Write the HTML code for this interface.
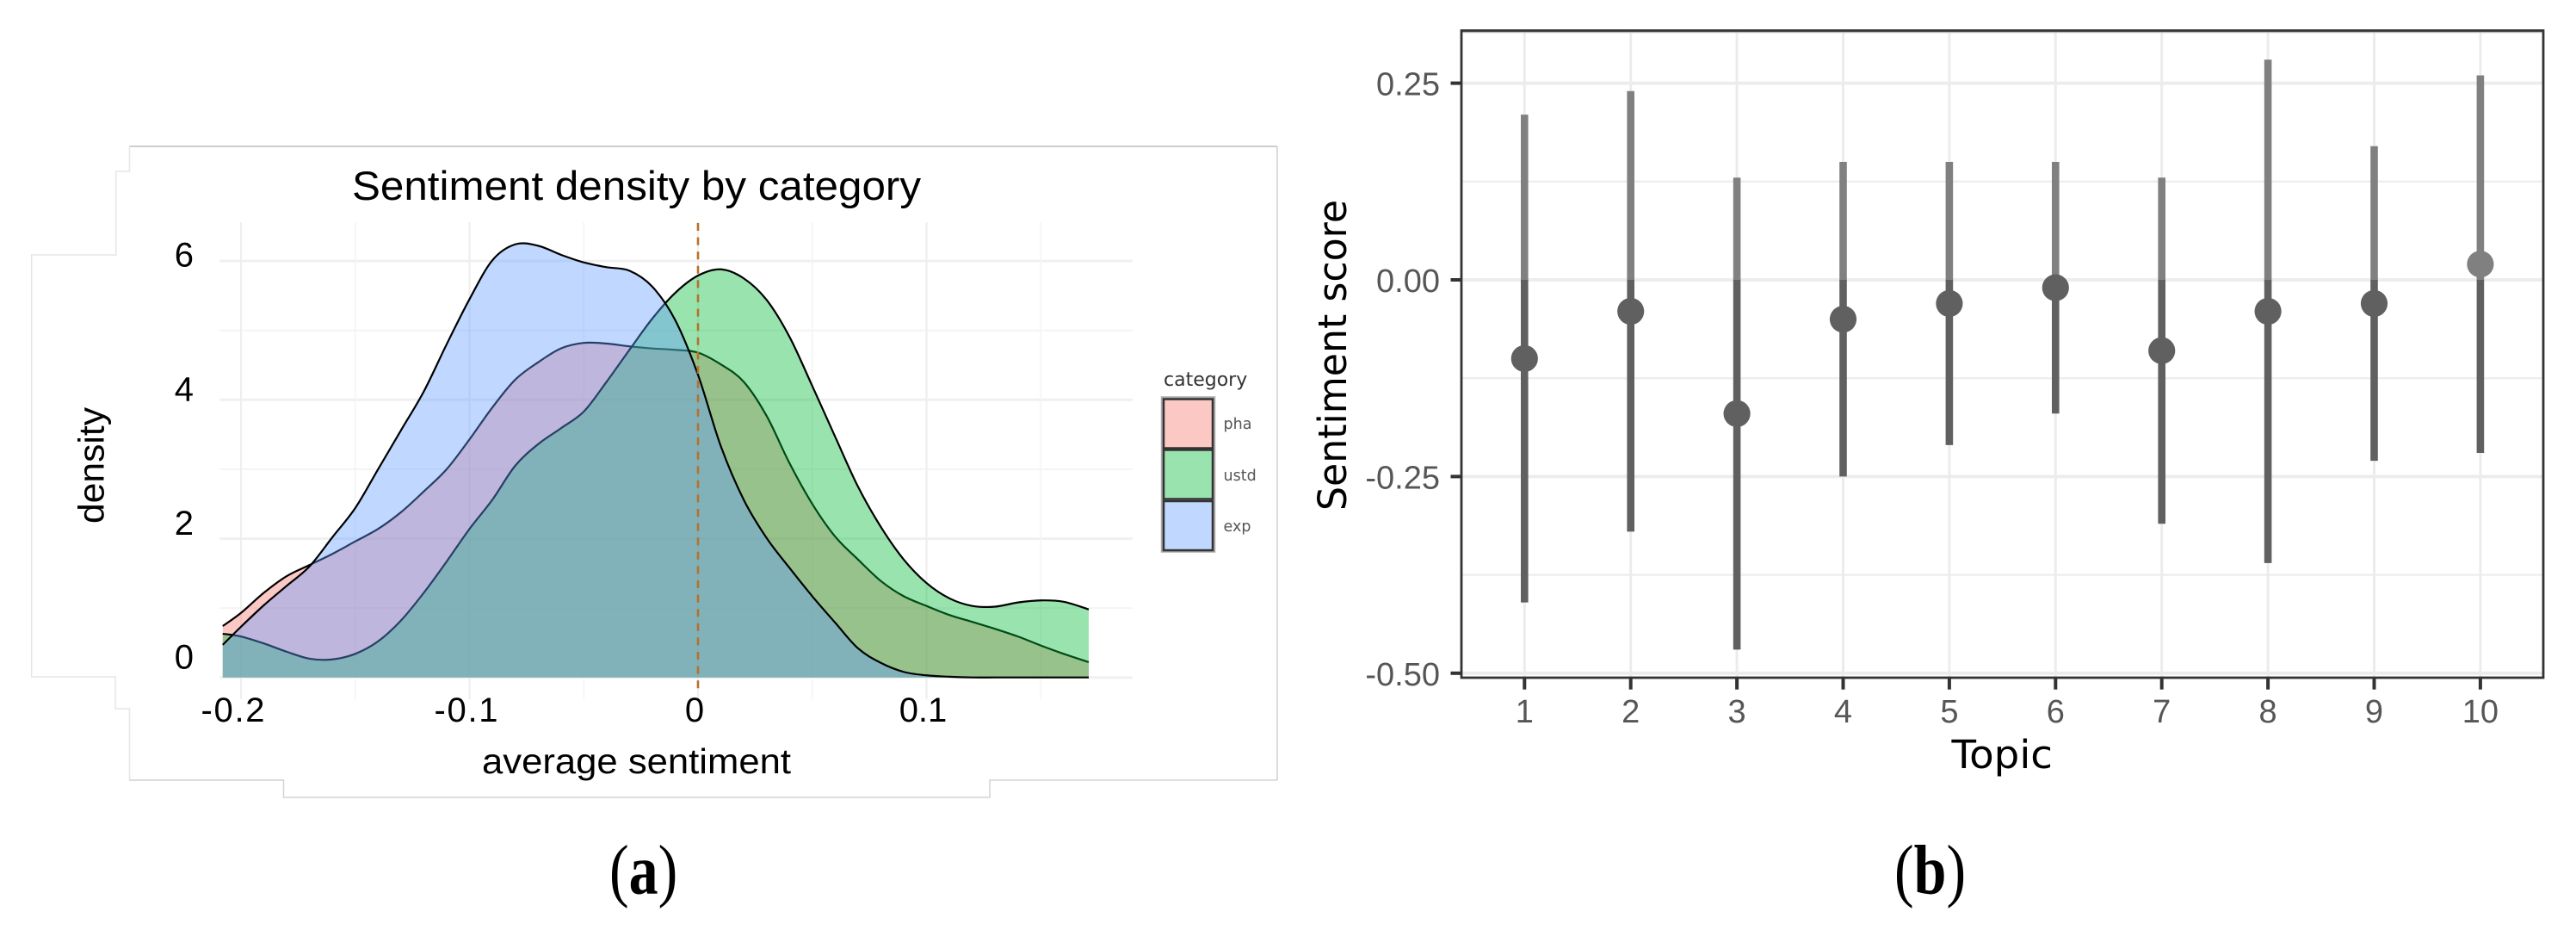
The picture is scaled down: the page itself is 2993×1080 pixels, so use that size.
<!DOCTYPE html>
<html lang="en">
<head>
<meta charset="utf-8">
<title>Sentiment density and topic sentiment scores</title>
<style>
html,body{margin:0;padding:0;background:#fff;width:2993px;height:1080px;overflow:hidden}
svg{display:block}
text{font-family:"Liberation Sans",sans-serif}
</style>
</head>
<body>
<svg id="root" xmlns="http://www.w3.org/2000/svg" width="2993" height="1080" viewBox="0 0 2993 1080">
  <rect x="0" y="0" width="2993" height="1080" fill="#fff"/>

  <g fill="none" stroke-width="1.5">
    <polyline points="150.5,170 1484,170" stroke="#bdbdbd"/>
    <polyline points="150.5,170 150.5,199 134.7,199 134.7,296 36.7,296 36.7,786 134,786 134,823 150.5,823 150.5,906 329.5,906" stroke="#e6e6e6"/>
    <polyline points="150.5,906 329.5,906 329.5,926 1150,926 1150,906 1484,906" stroke="#d4d4d4"/>
    <polyline points="1484,170 1484,906" stroke="#cfcfcf"/>
  </g>

  <g id="panelA"></g>

  <text x="409" y="232" font-size="47" fill="#000" textLength="661" lengthAdjust="spacingAndGlyphs">Sentiment density by category</text>
  <text x="560" y="898" font-size="41" fill="#000" textLength="359" lengthAdjust="spacingAndGlyphs">average sentiment</text>
  <text transform="translate(120.5,608) rotate(-90)" font-size="42" fill="#000" textLength="135" lengthAdjust="spacingAndGlyphs">density</text>

  <g>
    <text x="1352" y="448" font-size="22" fill="#333" style="font-family:'DejaVu Sans',sans-serif">category</text>
    <rect x="1351" y="462.5" width="59" height="177" fill="none" stroke="#aaa" stroke-width="4.5"/>
    <rect x="1352" y="463.5" width="57" height="57" fill="#fcc8c4" stroke="#333" stroke-width="2.5"/>
    <rect x="1352" y="522.5" width="57" height="57" fill="#99e3af" stroke="#333" stroke-width="2.5"/>
    <rect x="1352" y="582" width="57" height="57" fill="#c0d7ff" stroke="#333" stroke-width="2.5"/>
    <text x="1421.5" y="498" font-size="17.5" fill="#555" style="font-family:'DejaVu Sans',sans-serif">pha</text>
    <text x="1421.5" y="558" font-size="17.5" fill="#555" style="font-family:'DejaVu Sans',sans-serif">ustd</text>
    <text x="1421.5" y="617" font-size="17.5" fill="#555" style="font-family:'DejaVu Sans',sans-serif">exp</text>
  </g>

  <g id="panelB"></g>

  <text transform="translate(1564,593) rotate(-90)" font-size="45" fill="#000" textLength="361" lengthAdjust="spacingAndGlyphs" style="font-family:'DejaVu Sans',sans-serif">Sentiment score</text>
  <text x="2267.5" y="892" font-size="45" fill="#000" textLength="117.5" lengthAdjust="spacingAndGlyphs" style="font-family:'DejaVu Sans',sans-serif">Topic</text>

  <text transform="translate(708,1037.5) scale(1,1.2)" font-size="68" fill="#000" style="font-family:'Liberation Serif',serif">(<tspan font-weight="bold">a</tspan>)</text>
  <text transform="translate(2201,1037.5) scale(1,1.2)" font-size="68" fill="#000" style="font-family:'Liberation Serif',serif">(<tspan font-weight="bold">b</tspan>)</text>
</svg>

<script>
// ---- Panel (a) data: density by category ----
const sentimentGrid = [-0.208,-0.20,-0.19,-0.18,-0.17,-0.16,-0.15,-0.14,-0.13,-0.12,-0.11,-0.10,-0.09,-0.08,-0.07,-0.06,-0.05,-0.04,-0.03,-0.02,-0.01,0,0.01,0.02,0.03,0.04,0.05,0.06,0.07,0.08,0.09,0.10,0.11,0.12,0.13,0.14,0.15,0.16,0.171];
const phaDensity = [0.74,0.93,1.22,1.46,1.62,1.78,1.96,2.14,2.38,2.68,3.00,3.43,3.89,4.29,4.54,4.74,4.82,4.81,4.77,4.74,4.72,4.68,4.51,4.26,3.77,3.09,2.50,2.03,1.70,1.39,1.17,1.03,0.90,0.80,0.70,0.59,0.46,0.34,0.22];
const ustdDensity = [0.63,0.59,0.49,0.37,0.27,0.26,0.34,0.52,0.82,1.22,1.67,2.14,2.56,3.05,3.36,3.59,3.83,4.26,4.72,5.17,5.54,5.79,5.88,5.75,5.44,4.91,4.20,3.47,2.75,2.17,1.70,1.36,1.14,1.03,1.02,1.08,1.11,1.09,0.98];
const expDensity = [0.47,0.73,1.04,1.32,1.60,2.02,2.44,3.00,3.56,4.12,4.80,5.45,6.01,6.24,6.22,6.09,5.98,5.91,5.86,5.63,5.15,4.36,3.33,2.56,2.01,1.58,1.17,0.79,0.42,0.21,0.08,0.03,0.01,0,0,0,0,0,0];
const densityXTicks = [-0.2,-0.1,0,0.1];
const densityXTickLabels = ['-0.2','-0.1','0','0.1'];
const densityXMinor = [-0.15,-0.05,0.05,0.15];
const densityYTicks = [0,2,4,6];
const densityYMinor = [1,3,5];
const referenceValue = [0];

// ---- Panel (b) data: sentiment score per topic ----
const topics = [1,2,3,4,5,6,7,8,9,10];
const scoreMean = [-0.10,-0.04,-0.17,-0.05,-0.03,-0.01,-0.09,-0.04,-0.03,0.02];
const scoreUpper = [0.21,0.24,0.13,0.15,0.15,0.15,0.13,0.28,0.17,0.26];
const scoreLower = [-0.41,-0.32,-0.47,-0.25,-0.21,-0.17,-0.31,-0.36,-0.23,-0.22];
const scoreYTicks = [0.25,0,-0.25,-0.5];
const scoreYTickLabels = ['0.25','0.00','-0.25','-0.50'];
const scoreYMinor = [0.125,-0.125,-0.375];

const NS = 'http://www.w3.org/2000/svg';
function el(parent, tag, attrs, txt) {
  const n = document.createElementNS(NS, tag);
  for (const k in attrs) n.setAttribute(k, attrs[k]);
  if (txt !== undefined) n.textContent = txt;
  parent.appendChild(n);
  return n;
}

// axis functions
const xA = v => 811 + 2655 * v;
const yA = d => 786.7 - 80.6 * d;
// the y tick labels of panel (a) are spaced slightly tighter than the gridlines
const yALabel = d => 776.5 - 77.8 * d;
const xALabel = v => xA(v) - 4 + (v < -0.15 ? -5.5 : 0);
const xB = t => 1771.3 + 123.4 * (t - 1);
const yB = v => 325 - 913.6 * v;

function curvePath(xs, ys) {
  let d = 'M' + xs[0].toFixed(2) + ',' + ys[0].toFixed(2);
  for (let i = 0; i < xs.length - 1; i++) {
    const i0 = Math.max(i - 1, 0), i3 = Math.min(i + 2, xs.length - 1);
    const c1x = xs[i] + (xs[i + 1] - xs[i0]) / 6, c1y = ys[i] + (ys[i + 1] - ys[i0]) / 6;
    const c2x = xs[i + 1] - (xs[i3] - xs[i]) / 6, c2y = ys[i + 1] - (ys[i3] - ys[i]) / 6;
    d += 'C' + c1x.toFixed(2) + ',' + c1y.toFixed(2) + ' ' + c2x.toFixed(2) + ',' + c2y.toFixed(2) + ' ' + xs[i + 1].toFixed(2) + ',' + ys[i + 1].toFixed(2);
  }
  return d;
}

// ---------- Panel A ----------
const A = document.getElementById('panelA');
densityYMinor.forEach(function (v) {
  const g = el(A, 'line', {x1: 255, x2: 1316, y1: yA(v), y2: yA(v), stroke: '#f4f4f4', 'stroke-width': 2});
  
  
});
densityYTicks.forEach(function (v) {
  const g = el(A, 'line', {x1: 255, x2: 1316, y1: yA(v), y2: yA(v), stroke: '#f0f0f0', 'stroke-width': 3});
  
  
});
densityXMinor.forEach(function (v) {
  const g = el(A, 'line', {x1: xA(v), x2: xA(v), y1: 258, y2: 812, stroke: '#f4f4f4', 'stroke-width': 1.6});
  
  
});
densityXTicks.forEach(function (v) {
  const g = el(A, 'line', {x1: xA(v), x2: xA(v), y1: 258, y2: 812, stroke: '#eeeeee', 'stroke-width': 2.2});
  
  
});

function drawDensity(values, fill, name) {
  const xs = sentimentGrid.map(xA);
  const ys = values.map(yA);
  const line = curvePath(xs, ys);
  const base = yA(0);
  const area = el(A, 'path', {d: line + 'L' + xs[xs.length - 1] + ',' + base + 'L' + xs[0] + ',' + base + 'Z', fill: fill, 'fill-opacity': 0.4, stroke: 'none'});
  
  
  const outline = el(A, 'path', {d: line, fill: 'none', stroke: '#000', 'stroke-width': 2.2});
  
  
}
drawDensity(phaDensity, '#F8766D', 'pha');
drawDensity(ustdDensity, '#00BA38', 'ustd');
drawDensity(expDensity, '#619CFF', 'exp');

referenceValue.forEach(function (v) {
  const ref = el(A, 'line', {x1: xA(v), x2: xA(v), y1: 259, y2: 804, stroke: '#b8702a', 'stroke-width': 2.6, 'stroke-dasharray': '9 7.6'});
  
  
});

densityYTicks.forEach(function (v) {
  const t = el(A, 'text', {x: 225, y: yALabel(v), 'text-anchor': 'end', 'font-size': 40, fill: '#000'}, String(v));
  
  
});
densityXTicks.forEach(function (v, i) {
  const t = el(A, 'text', {x: xALabel(v), y: 838, 'text-anchor': 'middle', 'font-size': 40, fill: '#000'}, densityXTickLabels[i]);
  
  
  if (v < 0) t.setAttribute('textLength', '74');
});

// ---------- Panel B ----------
const B = document.getElementById('panelB');
const left = 1698, right = 2955, top_ = 35.5, bottom = 787;

scoreYMinor.forEach(function (v) {
  const g = el(B, 'line', {x1: left, x2: right, y1: yB(v), y2: yB(v), stroke: '#eeeeee', 'stroke-width': 2.4});
  
  
});
scoreYTicks.forEach(function (v) {
  const g = el(B, 'line', {x1: left, x2: right, y1: yB(v), y2: yB(v), stroke: '#ececec', 'stroke-width': 3.8});
  
  
});
topics.forEach(function (t) {
  const g = el(B, 'line', {x1: xB(t), x2: xB(t), y1: top_, y2: bottom, stroke: '#ececec', 'stroke-width': 3});
  
  
});

topics.forEach(function (t, i) {
  const x = xB(t);
  const up = el(B, 'line', {x1: x, x2: x, y1: yB(scoreUpper[i]), y2: yB(0), stroke: '#808080', 'stroke-width': 8.6});
  
  
  const low = el(B, 'line', {x1: x, x2: x, y1: yB(0), y2: yB(scoreLower[i]), stroke: '#606060', 'stroke-width': 8.6});
  
  
  const pt = el(B, 'circle', {cx: x, cy: yB(scoreMean[i]), r: 15.6, fill: scoreMean[i] > 0 ? '#808080' : '#606060'});
  
  
});

const sheen = el(B, 'line', {x1: left, x2: right, y1: 37.6, y2: 37.6, stroke: '#b8b8b8', 'stroke-width': 1.4});



const frame = el(B, 'rect', {x: left, y: top_, width: right - left, height: bottom - top_, fill: 'none', stroke: '#333', 'stroke-width': 2.8});



scoreYTicks.forEach(function (v, i) {
  const tick = el(B, 'line', {x1: 1685.5, x2: left, y1: yB(v), y2: yB(v), stroke: '#333', 'stroke-width': 4});
  
  
  const t = el(B, 'text', {x: 1673, y: yB(v) + 14, 'text-anchor': 'end', 'font-size': 38, fill: '#565656'}, scoreYTickLabels[i]);
  
  
});
topics.forEach(function (v) {
  const tick = el(B, 'line', {x1: xB(v), x2: xB(v), y1: bottom, y2: 800.7, stroke: '#333', 'stroke-width': 4});
  
  
  const t = el(B, 'text', {x: xB(v), y: 839, 'text-anchor': 'middle', 'font-size': 38, fill: '#565656'}, String(v));
  
  
});
</script>
</body>
</html>
